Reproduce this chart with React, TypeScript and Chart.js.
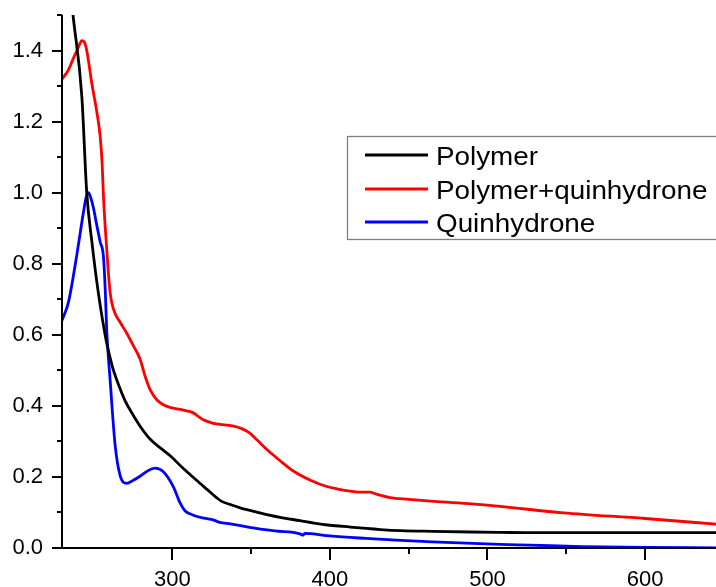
import React, { useEffect, useRef } from "react";
import { Chart, registerables } from "chart.js";

Chart.register(...registerables);

// ---- data ----
const polymerX = [230, 237, 242.6, 245.7, 249, 253, 258, 262, 265, 270, 275, 280, 286, 292, 299, 306, 315, 322, 328, 331, 337, 343, 350, 360, 370, 381, 390, 400, 413, 423, 432, 445, 465, 490, 508, 530, 560, 600, 645];
const polymerY = [1.81, 1.5, 1.27, 1.0, 0.86, 0.72, 0.585, 0.51, 0.47, 0.415, 0.375, 0.34, 0.306, 0.283, 0.258, 0.228, 0.192, 0.165, 0.142, 0.132, 0.122, 0.113, 0.105, 0.094, 0.085, 0.077, 0.07, 0.064, 0.059, 0.055, 0.052, 0.049, 0.047, 0.045, 0.044, 0.043, 0.043, 0.043, 0.043];

const mixX = [230, 234, 237, 240, 242.6, 244, 245.7, 249, 252, 254.2, 255.5, 256.3, 258.4, 260.5, 262.6, 266.8, 271, 275.3, 279.5, 283, 286, 290, 294.3, 299, 305, 309, 313, 316, 320, 326, 332, 339, 344, 349, 354, 360, 368, 377, 388, 398, 405, 413, 420, 425, 430, 438, 450, 466, 490, 508, 548, 600, 645];
const mixY = [1.319, 1.345, 1.376, 1.405, 1.428, 1.425, 1.4, 1.305, 1.23, 1.16, 1.08, 0.99, 0.84, 0.72, 0.673, 0.636, 0.605, 0.569, 0.532, 0.48, 0.445, 0.418, 0.403, 0.395, 0.39, 0.386, 0.381, 0.372, 0.36, 0.351, 0.347, 0.343, 0.336, 0.324, 0.303, 0.277, 0.247, 0.216, 0.19, 0.173, 0.166, 0.16, 0.157, 0.157, 0.151, 0.142, 0.137, 0.131, 0.124, 0.117, 0.099, 0.083, 0.067];

const quinX = [230, 234, 237, 239.4, 241.5, 243.6, 245.5, 246.8, 248.3, 250, 252, 254.2, 256.3, 257.5, 258.4, 260.5, 263.7, 266.8, 271, 275, 279.5, 284, 289, 294, 300.6, 305, 308, 313, 320, 326, 330, 337, 349, 365, 381, 383, 384, 400, 423, 442, 465, 508, 527, 560, 600, 645];
const quinY = [0.64, 0.69, 0.76, 0.825, 0.885, 0.945, 0.99, 1.0, 0.985, 0.956, 0.91, 0.862, 0.82, 0.72, 0.61, 0.475, 0.29, 0.205, 0.182, 0.19, 0.202, 0.216, 0.225, 0.216, 0.173, 0.126, 0.105, 0.093, 0.084, 0.079, 0.072, 0.068, 0.058, 0.048, 0.04, 0.036, 0.041, 0.034, 0.027, 0.022, 0.017, 0.01, 0.008, 0.004, 0.002, 0.0];

const seriesNames = ["Polymer", "Polymer+quinhydrone", "Quinhydrone"];
const seriesColors = ["#000000", "#ff0000", "#0000ff"];

const xMin = 230;
const xMax = 645;
const yMin = 0;
const yMax = 1.5;

const FONT = "'Liberation Sans', Arial, sans-serif";

const toPoints = (xs: number[], ys: number[]) => xs.map((x, i) => ({ x, y: ys[i] }));

const axesPlugin = {
  id: "originAxes",
  afterDraw(chart: any) {
    const ctx = chart.ctx;
    const { left, right, top, bottom } = chart.chartArea;
    const xs = chart.scales.x;
    const ys = chart.scales.y;
    ctx.save();
    ctx.strokeStyle = "#000";
    ctx.lineWidth = 2;
    ctx.lineCap = "butt";
    ctx.beginPath();
    ctx.moveTo(left, top);
    ctx.lineTo(left, bottom);
    ctx.moveTo(left - 1, bottom);
    ctx.lineTo(right, bottom);
    ctx.stroke();
    ctx.beginPath();
    xs.ticks.forEach((t: any) => {
      const v = t.value;
      if (Math.abs(v / 50 - Math.round(v / 50)) > 1e-6) return;
      const px = Math.round(xs.getPixelForValue(v));
      const major = Math.abs(v / 100 - Math.round(v / 100)) < 1e-6;
      ctx.moveTo(px, bottom);
      ctx.lineTo(px, bottom + (major ? 12 : 6));
    });
    ys.ticks.forEach((t: any) => {
      const v = t.value;
      const py = Math.round(ys.getPixelForValue(v));
      const major = Math.round(v * 10) % 2 === 0;
      ctx.moveTo(left, py);
      ctx.lineTo(left - (major ? 10 : 5), py);
    });
    ctx.stroke();
    ctx.restore();
  },
};

const legendPlugin = {
  id: "boxLegend",
  afterDraw(chart: any) {
    const ctx = chart.ctx;
    const bx = 347.5;
    const by = 136.5;
    const bw = 420;
    const bh = 103;
    ctx.save();
    ctx.fillStyle = "#fff";
    ctx.fillRect(bx, by, bw, bh);
    ctx.strokeStyle = "#7f7f7f";
    ctx.lineWidth = 1.3;
    ctx.strokeRect(bx, by, bw, bh);
    const rowY = [155, 189, 222];
    chart.data.datasets.forEach((ds: any, i: number) => {
      const y = rowY[i];
      ctx.strokeStyle = ds.borderColor;
      ctx.lineWidth = 2.8;
      ctx.beginPath();
      ctx.moveTo(365, y);
      ctx.lineTo(428, y);
      ctx.stroke();
      ctx.save();
      ctx.fillStyle = "#000";
      ctx.font = `26px ${FONT}`;
      ctx.textBaseline = "alphabetic";
      ctx.textAlign = "left";
      ctx.translate(436, y + 9.5);
      ctx.scale(1.07, 1);
      ctx.fillText(ds.label, 0, 0);
      ctx.restore();
    });
    ctx.restore();
  },
};

export default function App() {
  const ref = useRef<HTMLCanvasElement | null>(null);
  useEffect(() => {
    document.body.style.margin = "0";
    const canvas = ref.current;
    if (!canvas) return;
    const datasets = [
      toPoints(polymerX, polymerY),
      toPoints(mixX, mixY),
      toPoints(quinX, quinY),
    ].map((data, i) => ({
      label: seriesNames[i],
      data,
      borderColor: seriesColors[i],
      backgroundColor: seriesColors[i],
      borderWidth: 2.8,
      pointRadius: 0,
      fill: false,
      cubicInterpolationMode: "monotone" as const,
    }));
    const chart = new Chart(canvas, {
      type: "line",
      data: { datasets },
      options: {
        animation: false,
        responsive: false,
        layout: { padding: { top: 15, right: 0, left: 0, bottom: 0 } },
        plugins: { legend: { display: false }, tooltip: { enabled: false } },
        scales: {
          x: {
            type: "linear",
            min: xMin,
            max: xMax,
            grid: { display: false, drawTicks: false },
            border: { display: false },
            ticks: {
              stepSize: 50,
              autoSkip: false,
              maxRotation: 0,
              padding: 19,
              color: "#000",
              font: { family: FONT, size: 22 },
              callback: (v: any) => (Math.abs(v / 100 - Math.round(v / 100)) < 1e-6 ? String(v) : ""),
            },
            afterFit: (s: any) => {
              s.height = 39;
              s.paddingLeft = 0;
              s.paddingRight = 0;
            },
          },
          y: {
            type: "linear",
            min: yMin,
            max: yMax,
            grid: { display: false, drawTicks: false },
            border: { display: false },
            ticks: {
              stepSize: 0.1,
              autoSkip: false,
              padding: 19,
              color: "#000",
              font: { family: FONT, size: 22 },
              callback: (v: any) => (Math.round(v * 10) % 2 === 0 ? Number(v).toFixed(1) : ""),
            },
            afterFit: (s: any) => {
              s.width = 62;
              s.paddingTop = 0;
              s.paddingBottom = 0;
            },
          },
        },
      },
      plugins: [axesPlugin, legendPlugin],
    });
    return () => chart.destroy();
  }, []);
  return (
    <div style={{ position: "fixed", left: 0, top: 0, width: 716, height: 587, background: "#fff" }}>
      <canvas ref={ref} width={716} height={587} style={{ display: "block" }} />
    </div>
  );
}
